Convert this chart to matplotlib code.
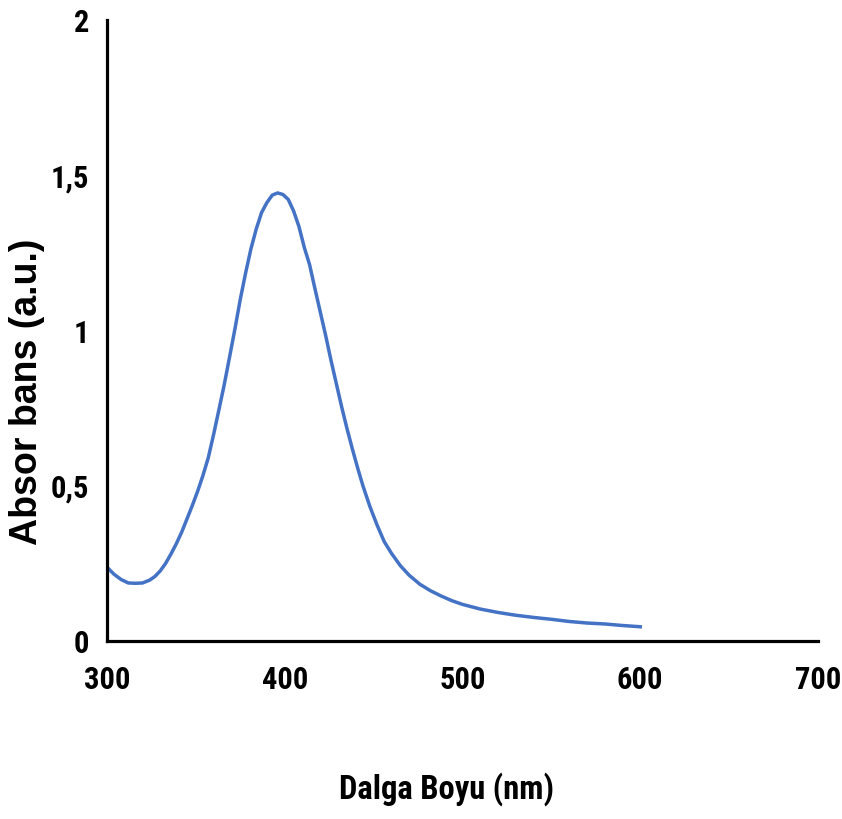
import matplotlib
matplotlib.use("Agg")
import matplotlib.pyplot as plt

# UV-Vis absorption spectrum
wavelength = [300, 304, 308, 312, 316, 320, 324, 327, 330, 333, 336, 339, 342, 345,
              348, 351, 354, 357, 360, 363, 366, 369, 372, 375, 378, 381, 384, 387,
              390, 393, 396, 399, 402, 405, 408, 411, 414, 417, 420, 423, 426, 429,
              432, 435, 438, 441, 444, 448, 452, 456, 460, 465, 470, 476, 482, 488,
              494, 500, 510, 520, 530, 540, 550, 560, 570, 580, 590, 600]
absorbance = [0.238, 0.215, 0.198, 0.187, 0.186, 0.187, 0.196, 0.208, 0.226, 0.250,
              0.280, 0.313, 0.350, 0.393, 0.436, 0.482, 0.533, 0.590, 0.665, 0.745,
              0.826, 0.915, 1.005, 1.100, 1.185, 1.263, 1.327, 1.380, 1.412, 1.436,
              1.443, 1.438, 1.422, 1.385, 1.335, 1.268, 1.212, 1.135, 1.060, 0.985,
              0.905, 0.830, 0.755, 0.685, 0.620, 0.558, 0.500, 0.432, 0.373, 0.320,
              0.283, 0.243, 0.212, 0.183, 0.162, 0.145, 0.130, 0.118, 0.103, 0.092,
              0.083, 0.076, 0.070, 0.063, 0.058, 0.055, 0.050, 0.046]

xticks = [300, 400, 500, 600, 700]
yticks = [0, 0.5, 1, 1.5, 2]
ytick_labels = ["0", "0,5", "1", "1,5", "2"]

narrow = ["Roboto Condensed", "DejaVu Sans"]
wide = ["Arimo", "Liberation Sans", "DejaVu Sans"]

fig = plt.figure(figsize=(8.42, 8.19), dpi=100)
ax = fig.add_axes([0.127, 0.2173, 0.8445, 0.7583])

ax.plot(wavelength, absorbance, color="#4472C4", linewidth=2.5)

ax.set_xlim(300, 700)
ax.set_ylim(0, 2)
ax.set_xticks(xticks)
ax.set_yticks(yticks)
ax.set_xticklabels([str(t) for t in xticks], fontfamily=narrow,
                   fontweight="bold", fontsize=22)
ax.set_yticklabels(ytick_labels, fontfamily=narrow, fontweight="bold", fontsize=22)
ax.tick_params(axis="both", length=0)
ax.tick_params(axis="x", pad=17)
ax.tick_params(axis="y", pad=13)

for side in ["top", "right"]:
    ax.spines[side].set_visible(False)
for side in ["left", "bottom"]:
    ax.spines[side].set_linewidth(2.3)
    ax.spines[side].set_color("black")

fig.text(0.032, 0.522, "Absor bans (a.u.)", rotation=90, ha="center", va="center",
         fontfamily=wide, fontweight="bold", fontsize=27)
fig.text(0.530, 0.036, "Dalga Boyu (nm)", ha="center", va="center",
         fontfamily=narrow, fontweight="bold", fontsize=23.5)

fig.savefig("out.png", dpi=100)
